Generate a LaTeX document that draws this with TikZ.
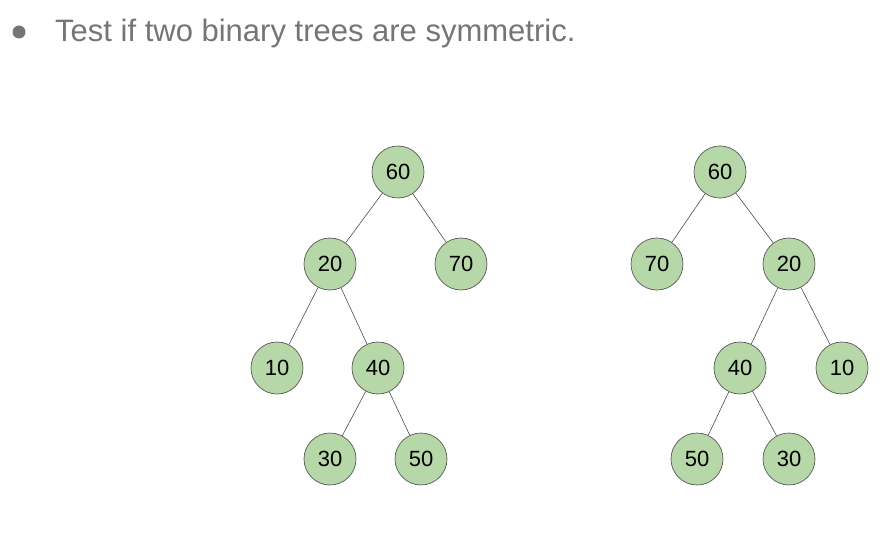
\documentclass[tikz,border=0pt]{standalone}
\usepackage{fontspec}
\setmainfont{Liberation Sans}
\usepackage{xcolor}
\usetikzlibrary{positioning}
\definecolor{leafgreen}{HTML}{B6D7A8}
\definecolor{titlegrey}{HTML}{757575}
\tikzstyle{edge} = [draw=black!70, line width=0.6pt]

\begin{document}
\begin{tikzpicture}[x=1pt, y=-1pt]
    \tikzstyle{tnode} = [circle, draw=black!65, line width=0.7pt, fill=leafgreen, minimum size=52pt, inner sep=0pt, font=\fontsize{22}{22}\selectfont]
    \useasboundingbox (0,0) rectangle (896,540);

    % heading
    \node[circle, fill=titlegrey, minimum size=13pt, inner sep=0pt] (bullet) at (19,32) {};
    \node[anchor=base west, text=titlegrey, font=\fontsize{31}{31}\selectfont, inner sep=0pt] (title) at (55,42) {Test if two binary trees are symmetric.};

    % first tree
    \node[tnode] (a60) at (398,172) {60};
    \node[tnode] (a20) at (330,264) {20};
    \node[tnode] (a70) at (461,264) {70};
    \node[tnode] (a10) at (277,368) {10};
    \node[tnode] (a40) at (378,368) {40};
    \node[tnode] (a30) at (330,459) {30};
    \node[tnode] (a50) at (421,459) {50};

    % second tree
    \node[tnode] (b60) at (720,172) {60};
    \node[tnode] (b70) at (657,264) {70};
    \node[tnode] (b20) at (789,264) {20};
    \node[tnode] (b40) at (740,368) {40};
    \node[tnode] (b10) at (842,368) {10};
    \node[tnode] (b50) at (697,459) {50};
    \node[tnode] (b30) at (789,459) {30};

    \draw[edge] (a60) -- (a20);
    \draw[edge] (a60) -- (a70);
    \draw[edge] (a20) -- (a10);
    \draw[edge] (a20) -- (a40);
    \draw[edge] (a40) -- (a30);
    \draw[edge] (a40) -- (a50);

    \draw[edge] (b60) -- (b70);
    \draw[edge] (b60) -- (b20);
    \draw[edge] (b20) -- (b40);
    \draw[edge] (b20) -- (b10);
    \draw[edge] (b40) -- (b50);
    \draw[edge] (b40) -- (b30);
\end{tikzpicture}
\end{document}
